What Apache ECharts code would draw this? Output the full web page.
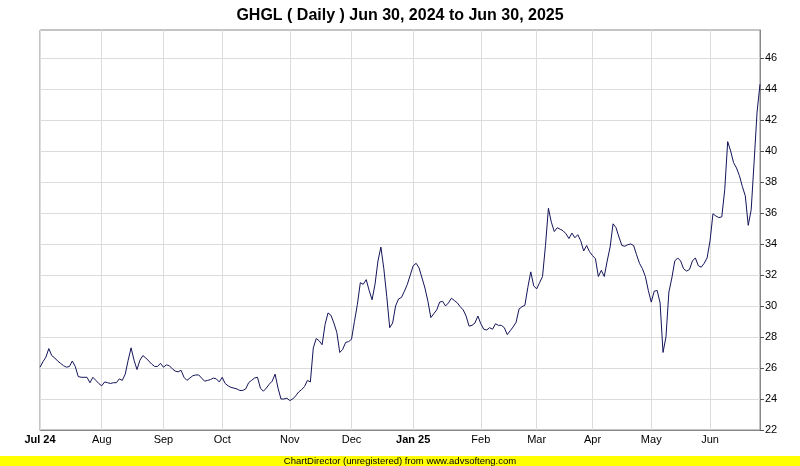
<!DOCTYPE html>
<html>
<head>
<meta charset="utf-8">
<script src="https://cdn.jsdelivr.net/npm/echarts@6/dist/echarts.min.js"></script>
<style>
html,body{margin:0;padding:0;background:#fff;}
#c{width:800px;height:466px;}
</style>
</head>
<body>
<div id="c"></div>
<script>
const titleText = 'GHGL ( Daily ) Jun 30, 2024 to Jun 30, 2025';
const footerText = 'ChartDirector (unregistered) from www.advsofteng.com';
const monthNames = ['Jul 24','Aug','Sep','Oct','Nov','Dec','Jan 25','Feb','Mar','Apr','May','Jun'];
const boldMonths = ['Jul 24','Jan 25'];
const monthTradingDays = [21,21,20,23,21,21,23,19,19,20,20,18];
const yTicks = [22,24,26,28,30,32,34,36,38,40,42,44,46];

const julPrices = [26.05,26.4,26.7,27.25,26.8,26.65,26.45,26.3,26.15,26.05,26.1,26.45,26.1,25.45,25.4,25.4,25.4,25.05,25.4,25.2,25.0];
const augPrices = [24.85,25.1,25.05,25.0,25.05,25.05,25.3,25.2,25.6,26.5,27.3,26.5,25.9,26.5,26.8,26.65,26.45,26.25,26.1,26.1,26.3];
const sepPrices = [26.05,26.2,26.15,25.95,25.8,25.75,25.85,25.4,25.2,25.35,25.5,25.55,25.55,25.35,25.15,25.2,25.25,25.35,25.3,25.1];
const octPrices = [25.4,25.0,24.85,24.75,24.7,24.65,24.55,24.55,24.65,25.05,25.2,25.35,25.4,24.7,24.5,24.7,24.95,25.15,25.6,24.7,24.0,24.0,24.05];
const novPrices = [23.9,24.0,24.2,24.45,24.6,24.8,25.2,25.1,27.3,27.9,27.75,27.5,28.8,29.55,29.4,28.9,28.3,27.0,27.2,27.65,27.7];
const decPrices = [27.85,29.0,30.1,31.5,31.4,31.7,31.0,30.4,31.4,32.9,33.8,32.4,30.6,28.6,28.9,30.0,30.45,30.55,30.95,31.4,32.0];
const janPrices = [32.6,32.75,32.45,31.8,31.15,30.3,29.25,29.5,29.75,30.25,30.3,30.0,30.2,30.5,30.35,30.2,29.95,29.75,29.35,28.7,28.75,28.9,29.35];
const febPrices = [28.85,28.5,28.45,28.6,28.5,28.85,28.75,28.75,28.6,28.15,28.4,28.65,28.95,29.8,29.95,30.05,31.2,32.2,31.3];
const marPrices = [31.1,31.5,31.9,33.9,36.3,35.4,34.8,35.05,34.95,34.85,34.65,34.35,34.7,34.4,34.6,34.2,33.55,33.9,33.5];
const aprPrices = [33.25,33.05,31.9,32.3,31.9,32.9,33.8,35.3,35.05,34.45,33.9,33.85,33.95,34.0,33.9,33.3,32.75,32.4,31.9,31.0];
const mayPrices = [30.25,30.95,31.0,30.2,27.0,28.0,30.9,31.8,32.9,33.1,32.9,32.4,32.25,32.35,32.9,33.1,32.6,32.5,32.75,33.1];
const junPrices = [34.2,35.95,35.8,35.7,35.75,37.5,40.6,40.0,39.25,38.9,38.4,37.7,37.1,35.2,36.2,39.3,42.5,44.3];

const monthly = [julPrices,augPrices,sepPrices,octPrices,novPrices,decPrices,janPrices,febPrices,marPrices,aprPrices,mayPrices,junPrices];
const categories = [];
const prices = [];
const monthStartLabel = {};
monthly.forEach((arr, m) => {
  monthStartLabel[categories.length] = monthNames[m];
  arr.forEach((v, d) => { categories.push(m + '-' + d); prices.push(v); });
});
const startIdx = new Set(Object.keys(monthStartLabel).map(Number));

const chart = echarts.init(document.getElementById('c'), null, {renderer: 'canvas'});
chart.setOption({
  animation: false,
  backgroundColor: '#ffffff',
  title: {
    text: titleText, left: 'center', top: 3,
    textStyle: {fontFamily: 'Liberation Sans, Arial', fontSize: 16, fontWeight: 'bold', color: '#000'}
  },
  grid: {left: 40, right: 40, top: 30, bottom: 36, show: true, borderColor: '#888', borderWidth: 1, backgroundColor: '#fff'},
  xAxis: {
    type: 'category', data: categories, boundaryGap: false,
    axisLine: {show: true, lineStyle: {color: '#888', width: 1}},
    axisTick: {show: false},
    axisLabel: {
      interval: (i) => startIdx.has(i),
      formatter: (v, i) => {
        const name = monthStartLabel[i];
        if (name === undefined) return '';
        return boldMonths.includes(name) ? '{b|' + name + '}' : name;
      },
      fontFamily: 'Liberation Sans, Arial', fontSize: 11, color: '#000', margin: 4,
      rich: {b: {fontWeight: 'bold', fontFamily: 'Liberation Sans, Arial', fontSize: 11, color: '#000'}}
    },
    splitLine: {show: true, interval: (i) => startIdx.has(i), lineStyle: {color: '#dcdcdc', width: 1}}
  },
  yAxis: {
    type: 'value', position: 'right', min: 22, max: 47.8, interval: 2,
    axisLine: {show: true, lineStyle: {color: '#888', width: 1}},
    axisTick: {show: true, length: 4, inside: false, lineStyle: {color: '#555'}, customValues: yTicks},
    axisLabel: {customValues: yTicks, formatter: (v) => (yTicks.includes(v) ? String(v) : ''), fontFamily: 'Liberation Sans, Arial', fontSize: 11, color: '#000', margin: 5},
    splitLine: {show: true, lineStyle: {color: '#dcdcdc', width: 1}}
  },
  series: [{
    type: 'line', data: prices, showSymbol: false, symbol: 'none',
    lineStyle: {color: '#14145a', width: 1}, z: 5
  }],
  graphic: [
    {type: 'rect', left: 0, top: 456, shape: {width: 800, height: 10}, style: {fill: '#ffff00'}, z: 10},
    {type: 'text', left: 'center', top: 456, style: {text: footerText, fontFamily: 'Liberation Sans, Arial', fontSize: 9.5, fill: '#000'}, z: 11}
  ]
});
</script>
</body>
</html>
